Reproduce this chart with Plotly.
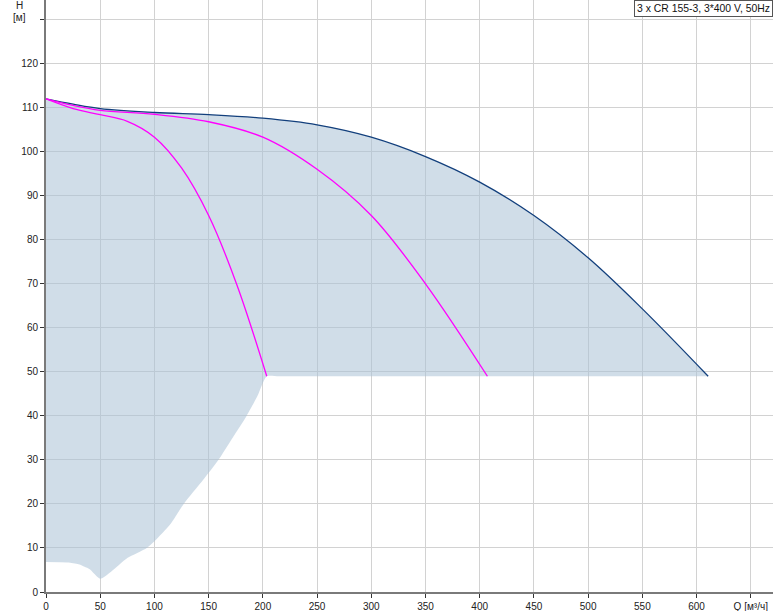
import plotly.graph_objects as go

# 3-pump (envelope) curve
q3 = [0, 25, 50, 100, 150, 200, 250, 300, 350, 400, 450, 500, 550, 610.7]
h3 = [112, 110.8, 109.8, 108.9, 108.4, 107.6, 106.1, 103.3, 98.9, 93.1, 85.5, 75.9, 64.3, 49]

# 2-pump curve
q2 = [0, 25, 50, 100, 150, 200, 250, 300, 350, 407.1]
h2 = [112, 110.5, 109.4, 108.5, 106.8, 103.3, 96.0, 85.5, 70.0, 49]

# 1-pump curve
q1 = [0, 25, 50, 75, 100, 125, 150, 176, 203.6]
h1 = [112, 109.8, 108.4, 106.9, 103.3, 96.3, 85.5, 69.8, 49]

# lower boundary of operating area
ql = [0, 20, 30, 40, 50, 60, 75, 93, 100, 115, 127, 145, 159, 172, 185, 195, 203.6, 215, 610.7]
hl = [6.8, 6.7, 6.3, 5.2, 3.0, 4.6, 7.7, 10, 11.5, 15.5, 20, 25.5, 30, 35, 40, 44.5, 49, 49, 49]

x_ticks = [0, 50, 100, 150, 200, 250, 300, 350, 400, 450, 500, 550, 600, 650]
x_text = ["0", "50", "100", "150", "200", "250", "300", "350", "400", "450", "500", "550", "600", "Q [м³/ч]"]
y_ticks = [0, 10, 20, 30, 40, 50, 60, 70, 80, 90, 100, 110, 120, 130]
y_text = ["0", "10", "20", "30", "40", "50", "60", "70", "80", "90", "100", "110", "120", ""]

legend_text = "3 x CR 155-3, 3*400 V, 50Hz"

fig = go.Figure()
fig.add_trace(go.Scatter(x=ql, y=hl, mode="lines",
                         line=dict(width=0, color="rgba(0,0,0,0)", shape="spline", smoothing=0.6),
                         showlegend=False, hoverinfo="skip"))
fig.add_trace(go.Scatter(x=q3, y=h3, mode="lines", fill="tonexty",
                         fillcolor="rgba(170,193,214,0.55)",
                         line=dict(color="#123f7c", width=1.3, shape="spline", smoothing=1.0),
                         showlegend=False))
fig.add_trace(go.Scatter(x=q1, y=h1, mode="lines",
                         line=dict(color="#ff00ff", width=1.3, shape="spline", smoothing=1.0),
                         showlegend=False))
fig.add_trace(go.Scatter(x=q2, y=h2, mode="lines",
                         line=dict(color="#ff00ff", width=1.3, shape="spline", smoothing=1.0),
                         showlegend=False))

fig.update_layout(
    width=774, height=611,
    margin=dict(l=46, r=1, t=0, b=19),
    paper_bgcolor="white", plot_bgcolor="white",
    font=dict(family="Arial, Liberation Sans, sans-serif", size=10, color="#222"),
    xaxis=dict(range=[0, 670.5], tickvals=x_ticks, ticktext=x_text,
               showgrid=True, gridcolor="#d2d2d2", gridwidth=1,
               showline=True, linecolor="#7a7a7a", linewidth=2,
               ticks="outside", ticklen=4, tickcolor="#333", tickwidth=1,
               zeroline=False, fixedrange=True),
    yaxis=dict(range=[0, 134.45], tickvals=y_ticks, ticktext=y_text,
               showgrid=True, gridcolor="#d2d2d2", gridwidth=1,
               showline=True, linecolor="#7a7a7a", linewidth=2,
               ticks="outside", ticklen=4, tickcolor="#333", tickwidth=1,
               zeroline=False, fixedrange=True),
    annotations=[
        dict(text="H", xref="paper", yref="paper", x=-0.037, y=(592 - 6) / 592,
             xanchor="center", yanchor="middle", showarrow=False,
             font=dict(size=10, color="#222")),
        dict(text="[м]", xref="paper", yref="paper", x=-0.037, y=(592 - 18) / 592,
             xanchor="center", yanchor="middle", showarrow=False,
             font=dict(size=10, color="#222")),
        dict(text=legend_text, xref="paper", yref="paper", x=1, y=1,
             xanchor="right", yanchor="top", showarrow=False,
             bgcolor="white", bordercolor="#555", borderwidth=1, borderpad=2,
             font=dict(size=10.4, color="#111")),
    ],
)

fig.write_html("out.html", config={"displayModeBar": False, "staticPlot": True},
               post_script="document.body.style.margin='0';document.body.style.padding='0';"
                           "document.body.style.overflow='hidden';")
